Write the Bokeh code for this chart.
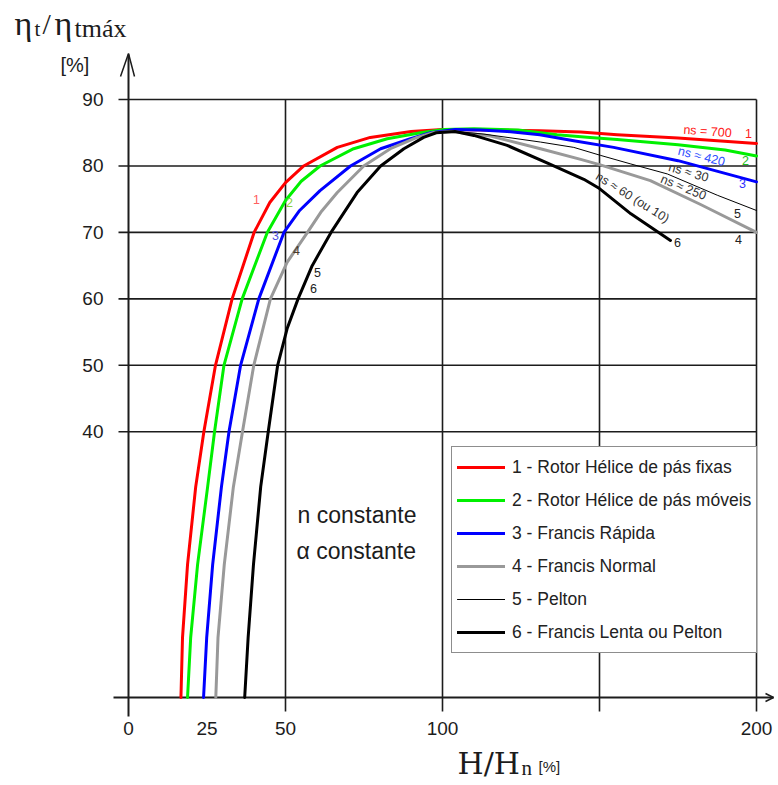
from bokeh.plotting import figure
from bokeh.models import Range1d, FixedTicker, Label, Legend, LegendItem, ColumnDataSource
from bokeh.embed import file_html
from bokeh.resources import INLINE
from bokeh.core.properties import value

# ---------------- data ----------------
x_tick_values = [0, 25, 50, 100, 200]
y_tick_values = [40, 50, 60, 70, 80, 90]
x_grid_values = [50, 100, 150, 200]
y_grid_values = [40, 50, 60, 70, 80, 90]

series_names = [
    "1 - Rotor Hélice de pás fixas",
    "2 - Rotor Hélice de pás móveis",
    "3 - Francis Rápida",
    "4 - Francis Normal",
    "5 - Pelton",
    "6 - Francis Lenta ou Pelton",
]

c1_x = [16.7, 17.2, 18.8, 21.4, 24.0, 27.7, 33.0, 40.0, 45.0, 50.0, 55.8, 66.5, 77.0, 90.0, 100.0, 115.0, 131.0, 144.0, 155.6, 175.0, 200.0]
c1_y = [0, 9, 20, 31.7, 40, 50, 60, 70, 74.5, 77.5, 80, 82.8, 84.3, 85.2, 85.5, 85.4, 85.3, 85.1, 84.7, 84.2, 83.4]

c2_x = [18.8, 19.8, 22.0, 25.2, 27.4, 30.4, 36.2, 44.2, 50.0, 55.0, 61.0, 71.7, 82.4, 93.0, 100.4, 110.0, 124.0, 136.5, 147.0, 155.6, 175.0, 190.0, 200.0]
c2_y = [0, 9, 20, 31.7, 40, 50, 60, 70, 74.8, 77.7, 80, 82.6, 84.1, 85.0, 85.5, 85.6, 85.4, 84.7, 84.3, 84.0, 83.2, 82.4, 81.5]

c3_x = [23.9, 24.9, 26.8, 29.6, 32.0, 35.7, 41.5, 49.5, 54.5, 61.0, 70.7, 80.3, 89.8, 96.2, 104.0, 112.0, 120.6, 131.0, 141.8, 154.5, 175.0, 200.0]
c3_y = [0, 9, 20, 31.7, 40, 50, 60, 70, 73.3, 76.3, 80, 82.6, 84.1, 85.0, 85.5, 85.4, 85.2, 84.7, 83.8, 82.8, 80.8, 77.6]

c4_x = [27.8, 28.5, 30.5, 33.4, 36.3, 39.9, 45.2, 50.5, 57.0, 61.5, 66.5, 74.9, 83.4, 91.9, 97.0, 103.0, 115.3, 131.2, 144.0, 150.0, 166.2, 182.2, 200.0]
c4_y = [0, 9, 20, 31.7, 40, 50, 60, 65.5, 70, 73.2, 76, 80, 82.6, 84.3, 85.0, 85.2, 84.5, 82.6, 81.0, 80.2, 77.8, 74.2, 70.0]

c5_x = [37.0, 38.1, 39.8, 42.1, 44.5, 47.5, 50.5, 54.0, 58.5, 64.5, 72.8, 80.3, 87.7, 94.0, 98.0, 104.0, 113.2, 131.2, 141.8, 150.3, 160.0, 171.6, 187.5, 200.0]
c5_y = [0, 9, 20, 31.7, 40, 50, 55.5, 60, 65, 70, 76, 80, 82.6, 84.3, 85.0, 85.2, 84.8, 83.6, 82.8, 81.6, 80.3, 78.8, 75.6, 73.3]

c6_x = [37.0, 38.1, 39.8, 42.1, 44.5, 47.5, 50.5, 54.0, 58.5, 64.5, 72.8, 80.3, 87.7, 94.0, 98.0, 104.0, 110.0, 120.6, 134.0, 145.0, 150.0, 160.0, 172.6]
c6_y = [0, 9, 20, 31.7, 40, 50, 55.5, 60, 65, 70, 76, 80, 82.6, 84.3, 85.0, 85.2, 84.6, 83.1, 80.3, 78.0, 76.6, 72.8, 68.8]

series_x = [c1_x, c2_x, c3_x, c4_x, c5_x, c6_x]
series_y = [c1_y, c2_y, c3_y, c4_y, c5_y, c6_y]

# ---------------- styles ----------------
series_colors = ["#ff0000", "#00f000", "#0000ff", "#999999", "#000000", "#000000"]
series_widths = [3, 3, 3, 3, 1, 3]
INK = "#1c1c1c"
SANS = "Liberation Sans"
SERIF = "Liberation Serif"

# canvas size and the pixel scale of the axes (frame = whole canvas)
W, H = 776, 785
PX0, KX = 128.0, 3.14
PY0, KY = 697.0, 6.644


def dx(px):
    return (px - PX0) / KX


def dy(py):
    return (PY0 - py) / KY


p = figure(
    width=W, height=H,
    x_range=Range1d(dx(0), dx(W)), y_range=Range1d(dy(H), dy(0)),
    output_backend="svg", toolbar_location=None,
    min_border_left=0, min_border_right=0, min_border_top=0, min_border_bottom=0,
)
p.outline_line_color = None
p.xgrid.grid_line_color = None
p.ygrid.grid_line_color = None

for ax, ticks, stand in ((p.xaxis, x_tick_values, 24), (p.yaxis, y_tick_values, 25)):
    ax.fixed_location = 0
    ax.ticker = FixedTicker(ticks=ticks)
    ax.axis_line_color = None
    ax.major_tick_line_color = None
    ax.minor_tick_line_color = None
    ax.major_tick_out = 0
    ax.major_tick_in = 0
    ax.major_label_standoff = stand
    ax.major_label_text_font = SANS
    ax.major_label_text_font_size = "19px"
    ax.major_label_text_color = INK

# grid lines
gtop = max(y_grid_values)
gright = max(x_grid_values)
p.segment(x0=x_grid_values, y0=[dy(711)] * len(x_grid_values), x1=x_grid_values,
          y1=[gtop] * len(x_grid_values), line_color=INK, line_width=1.6)
p.segment(x0=[dx(118)] * len(y_grid_values), y0=y_grid_values,
          x1=[gright] * len(y_grid_values), y1=y_grid_values, line_color=INK, line_width=1.6)

# axes with arrows
p.segment(x0=[0], y0=[dy(716)], x1=[0], y1=[dy(54)], line_color=INK, line_width=2)
p.segment(x0=[dx(113)], y0=[0], x1=[dx(773)], y1=[0], line_color=INK, line_width=2)
p.line([dx(120), 0, dx(134)], [dy(76), dy(53), dy(76)], line_color=INK, line_width=1.5)
p.line([dx(765), dx(773), dx(765)], [dy(693), 0, dy(701)], line_color=INK, line_width=1.5)

# curves
renderers = []
for xs, ys, c, w in zip(series_x, series_y, series_colors, series_widths):
    r = p.line(xs, ys, line_color=c, line_width=w, line_join="round", line_cap="round")
    renderers.append(r)

# curve annotations
ann_text = ["1", "2", "3", "4", "5", "6",
            "1", "2", "3", "5", "4", "6",
            "ns = 700", "ns ≈ 420", "ns ≈ 30", "ns ≈ 250", "ns ≈ 60 (ou 10)"]
ann_px = [256, 289, 275, 296, 317, 313,
          748, 745, 742, 737, 738, 677,
          707, 701, 688, 683, 632]
ann_py = [199, 202, 235, 250, 272, 288,
          133, 160, 183, 213, 239, 242,
          131, 156, 172, 187, 197]
ann_angle = [0, 0, 0, 0, 0, 0,
             0, 0, 0, 0, 0, 0,
             -4, -14, -16, -22, -32]
ann_color = ["#ff6060", "#88d040", "#5050e0", "#4a3a2a", "#222222", "#222222",
             "#ff2020", "#20c020", "#3030ff", "#222222", "#222222", "#222222",
             "#ff2020", "#3050ff", "#333333", "#333333", "#333333"]
src = ColumnDataSource(dict(
    x=[dx(v) for v in ann_px], y=[dy(v) for v in ann_py],
    text=ann_text, angle=ann_angle, color=ann_color))
p.text(x="x", y="y", text="text", angle="angle", angle_units="deg", text_color="color",
       source=src, text_font=value(SANS), text_font_size="12.5px",
       text_align="center", text_baseline="middle")

p.text(x=[dx(297), dx(296)], y=[dy(514), dy(550)], text=["n constante", "α constante"],
       text_font=value(SANS), text_font_size="23px", text_color=INK,
       text_align="left", text_baseline="middle")

# legend
legend = Legend(
    items=[LegendItem(label=n, renderers=[r]) for n, r in zip(series_names, renderers)],
    location=(451, H - 653),
    border_line_color=INK, border_line_width=1.5,
    background_fill_color="white", background_fill_alpha=1.0,
    padding=5, spacing=3, margin=0,
    glyph_width=48, glyph_height=30, label_height=30, label_standoff=7,
    label_text_font=SANS, label_text_font_size="17.5px", label_text_color="#222222",
)
p.add_layout(legend)


# axis titles (rich, built from pieces); py is the wanted baseline in page pixels
LABEL_SHIFT = 8


def lab(px, py, text, font, size):
    p.add_layout(Label(x=dx(px), y=dy(py - LABEL_SHIFT), text=text, text_font=font,
                       text_font_size=size, text_color=INK, text_align="left",
                       text_baseline="alphabetic"))


lab(14, 31, "η", SERIF, "34px")
lab(34, 36, "t", SERIF, "21px")
lab(42, 31, "/", SERIF, "30px")
lab(54, 31, "η", SERIF, "34px")
lab(74, 36, "tmáx", SERIF, "26px")
lab(60, 72, "[%]", SANS, "20px")

lab(457, 771, "H/H", "DejaVu Serif", "30px")
lab(521, 775, "n", SERIF, "21px")
lab(538, 774, "[%]", SANS, "15px")

open("out.html", "w").write(file_html(p, INLINE))
